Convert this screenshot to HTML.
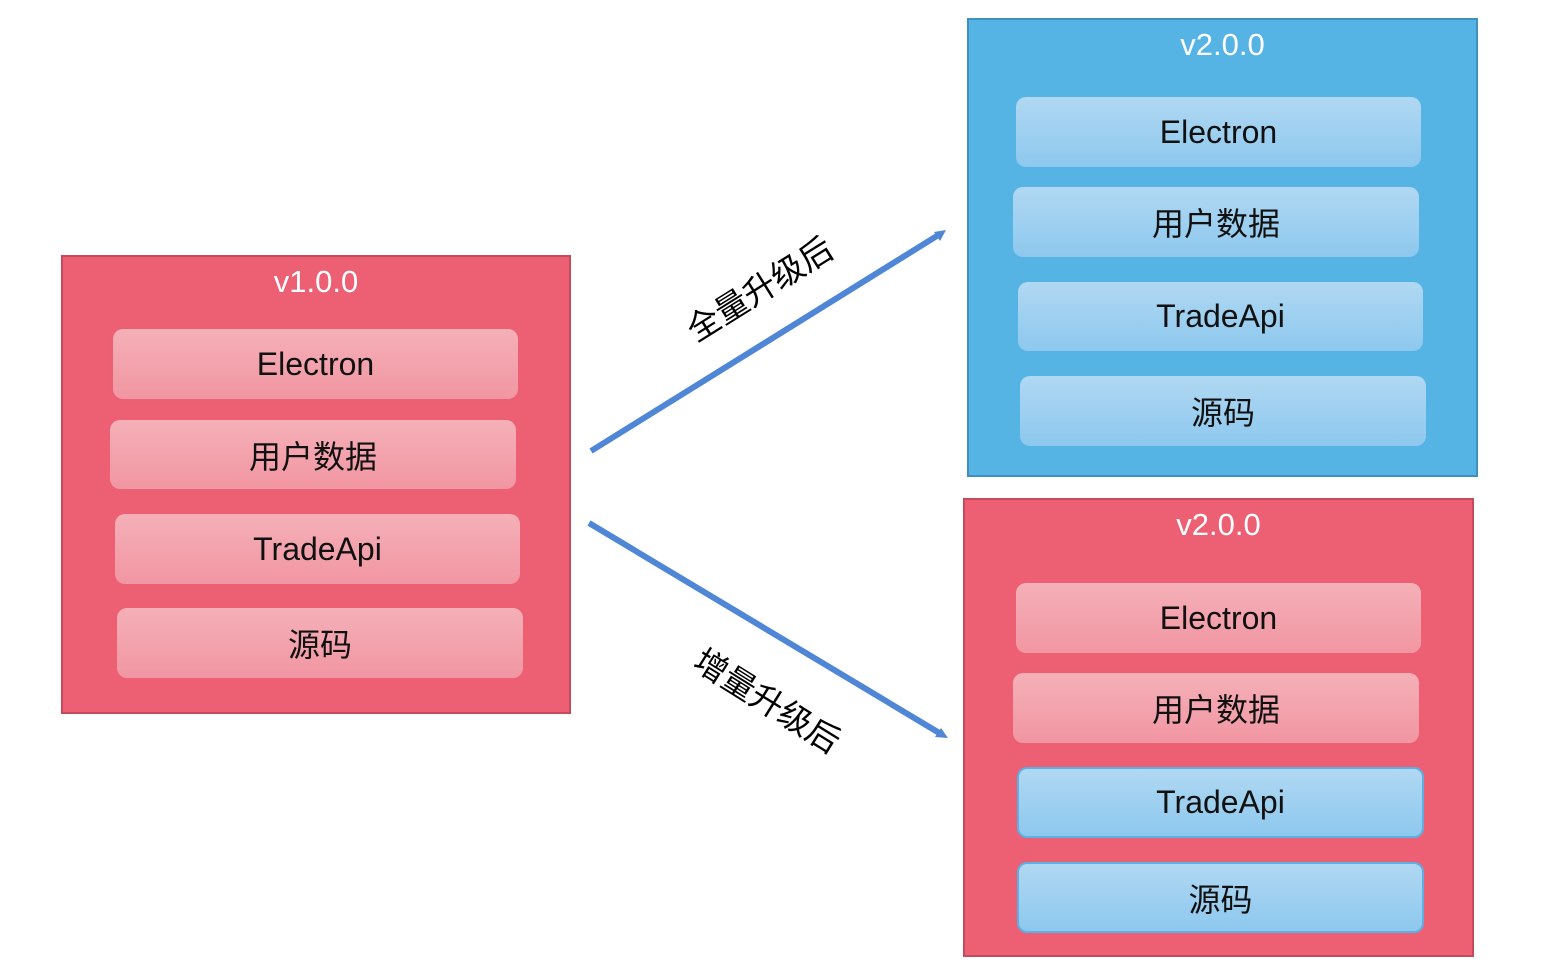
<!DOCTYPE html>
<html><head><meta charset="utf-8"><style>
body{margin:0;width:1557px;height:968px;background:#fff;position:relative;overflow:hidden;font-family:"Liberation Sans","Noto Sans CJK SC",sans-serif;}
.box{position:absolute;box-sizing:border-box;}
.red{background:#ed5f73;border:2px solid #c44a5c;}
.blue{background:#56b4e4;border:2px solid #3f8fc0;}
.t{position:absolute;left:0;right:0;text-align:center;color:#fff;font-size:31px;}
.it{position:absolute;box-sizing:border-box;border-radius:10px;text-align:center;color:#111;font-size:32px;display:flex;align-items:center;justify-content:center;}
.p{background:linear-gradient(#f5b0b8,#f196a2);}
.b{background:linear-gradient(#b0d8f2,#8dc8ee);}
.bb{border:2px solid #5cb0e4;}
.lab{position:absolute;font-size:33px;color:#000;white-space:nowrap;transform-origin:center;}
</style></head><body>
<div class="box red" style="left:61px;top:255px;width:510px;height:459px"><div class="t" style="top:7px">v1.0.0</div></div>
<div class="it p" style="left:113px;top:329px;width:405px;height:70px">Electron</div>
<div class="it p" style="left:110px;top:420px;width:406px;height:69px">用户数据</div>
<div class="it p" style="left:115px;top:514px;width:405px;height:70px">TradeApi</div>
<div class="it p" style="left:117px;top:608px;width:406px;height:70px">源码</div>

<div class="box blue" style="left:967px;top:18px;width:511px;height:459px"><div class="t" style="top:7px">v2.0.0</div></div>
<div class="it b" style="left:1016px;top:97px;width:405px;height:70px">Electron</div>
<div class="it b" style="left:1013px;top:187px;width:406px;height:70px">用户数据</div>
<div class="it b" style="left:1018px;top:282px;width:405px;height:69px">TradeApi</div>
<div class="it b" style="left:1020px;top:376px;width:406px;height:70px">源码</div>

<div class="box red" style="left:963px;top:498px;width:511px;height:459px"><div class="t" style="top:7px">v2.0.0</div></div>
<div class="it p" style="left:1016px;top:583px;width:405px;height:70px">Electron</div>
<div class="it p" style="left:1013px;top:673px;width:406px;height:70px">用户数据</div>
<div class="it b bb" style="left:1017px;top:767px;width:407px;height:71px">TradeApi</div>
<div class="it b bb" style="left:1017px;top:862px;width:407px;height:71px">源码</div>

<svg width="1557" height="968" style="position:absolute;left:0;top:0">
<line x1="591" y1="451" x2="940" y2="234" stroke="#4f86d6" stroke-width="6"/>
<polygon points="946,230 934,232 940,241" fill="#4f86d6"/>
<line x1="589" y1="523" x2="941" y2="734" stroke="#4f86d6" stroke-width="6"/>
<polygon points="948,738 941,728 935,737" fill="#4f86d6"/>
</svg>
<div class="lab" style="left:676px;top:263px;transform:rotate(-32deg)">全量升级后</div>
<div class="lab" style="left:686px;top:675px;transform:rotate(32deg)">增量升级后</div>
</body></html>
